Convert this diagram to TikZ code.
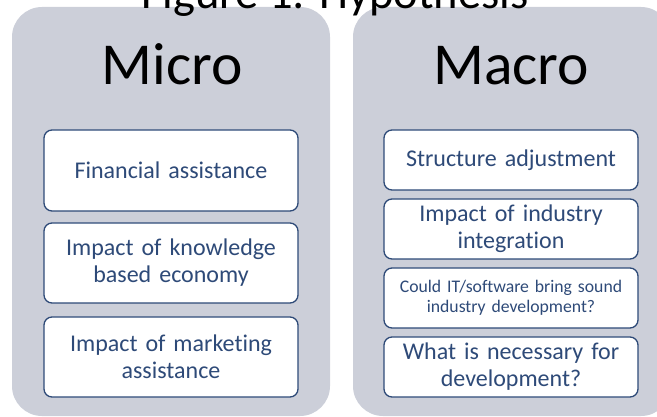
\documentclass[tikz,border=0pt]{standalone}
\usepackage{fontspec}
\setmainfont{Carlito}[Ligatures=NoCommon]
\definecolor{panelgray}{RGB}{204,207,217}
\definecolor{boxblue}{RGB}{46,74,120}
\tikzset{
  panel/.style={fill=panelgray, rounded corners=30pt, minimum width=318pt, minimum height=409pt, inner sep=0pt},
  heading/.style={font=\fontsize{59.5}{62}\selectfont, anchor=base},
  itembox/.style={draw=boxblue, line width=1.3pt, fill=white, rounded corners=8pt, text=boxblue, align=center,
    minimum width=254pt, text width=250pt, inner sep=0pt, font=\fontsize{24}{27}\selectfont},
}
\begin{document}
\begin{tikzpicture}[x=1pt,y=-1pt]
\useasboundingbox (0,0) rectangle (657,417);
\clip (0,0) rectangle (657,417);

% Micro
\node[panel] (microPanel) at (171,211.5) {};
\node[heading] (microHead) at (172,85) {Micro};
\node[itembox, minimum height=81pt] (finance) at (171,170.5) {Financial assistance};
\node[itembox, minimum height=80pt] (knowledge) at (171,263) {Impact of knowledge\\based economy};
\node[itembox, minimum height=80pt] (marketing) at (171,357) {Impact of marketing\\assistance};

% Macro
\node[panel] (macroPanel) at (512,211.5) {};
\node[heading] (macroHead) at (511,85) {Macro};
\node[itembox, minimum height=60pt] (structure) at (511,160) {Structure adjustment};
\node[itembox, minimum height=60pt] (integration) at (511,229) {Impact of industry\\integration};
\node[itembox, minimum height=60pt, font=\fontsize{17.7}{20.5}\selectfont] (software) at (511,298) {Could IT/software bring sound\\industry development?};
\node[itembox, minimum height=60pt] (necessary) at (511,367) {What is necessary for\\development?};

% Titel
\node[font=\fontsize{46.5}{50}\selectfont, anchor=base] (title) at (335,9) {Figure 1: Hypothesis};
\end{tikzpicture}
\end{document}
